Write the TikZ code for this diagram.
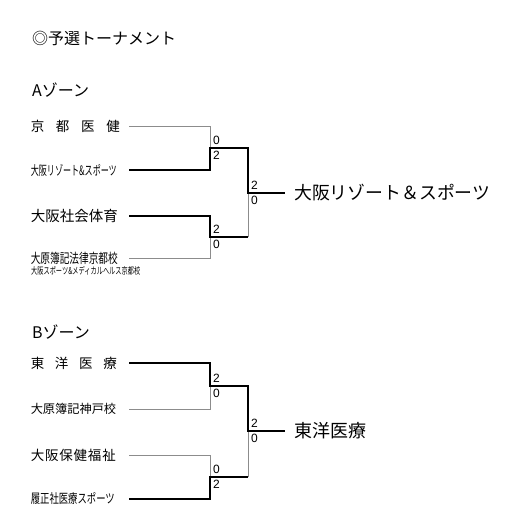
\documentclass[tikz,border=0pt]{standalone}
\usepackage{fontspec}
\setmainfont{Noto Sans CJK JP}
\newfontfamily\numfont{Liberation Sans}
\usepackage{graphicx}
\usetikzlibrary{positioning}

\newcommand{\fsize}[1]{\fontsize{#1}{#1}\selectfont}

\begin{document}
\begin{tikzpicture}[
    x=1pt, y=-1pt,
    every node/.style={inner sep=0pt},
    % school names, left of the lines
    team/.style={anchor=east, text width=98pt, align=left},
    % zone winner, right of the bracket
    winner/.style={anchor=west, inner xsep=9pt, inner ysep=0pt, font=\fsize{18}},
    zone/.style={anchor=west, font=\fsize{16}},
    score/.style={font=\numfont\fsize{12}},
    lose/.style={draw=black!45, line width=0.9pt},
    win/.style={draw=black, line width=2.2pt}
]
\useasboundingbox (0,0) rectangle (531,528);

% --- Title ---
\node[zone] (title) at (32,38) {◎予選トーナメント};

% --- A zone ---
\node[zone] (zoneA) at (32,90) {Aゾーン};
\node[team, font=\fsize{13.5}] (a1) at (129,126) {\makebox[89pt][s]{京\hfill 都\hfill 医\hfill 健}};
\node[team, font=\fsize{13}] (a2) at (129,170) {\resizebox{86pt}{\height}{大阪リゾート\&スポーツ}};
\node[team, font=\fsize{14.5}] (a3) at (129,216) {\makebox[87pt][s]{大\hfill 阪\hfill 社\hfill 会\hfill 体\hfill 育}};
\node[team, font=\fsize{13.5}] (a4) at (129,258) {\resizebox{87pt}{\height}{大原簿記法律京都校}};
\node[anchor=west, font=\fsize{9.5}] (a4x) at (31,271) {\resizebox{109pt}{\height}{大阪スポーツ\&メディカルヘルス京都校}};
\node[winner] (wa) at (285,193) {\resizebox{196pt}{\height}{大阪リゾート＆スポーツ}};

\coordinate (qa1) at (210,148);
\coordinate (qa2) at (210,237);
\coordinate (fa) at (248,193);

\draw[lose] (a1.east) -| (qa1);
\draw[lose] (a4.east) -| (qa2);
\draw[lose] (qa2 -| fa) -- (fa);
\draw[win] (a2.east) -| (qa1) -| (fa) -- (wa.west);
\draw[win] (a3.east) -| (qa2) -- (qa2 -| fa);

\node[score, above right=3pt and 3pt of qa1] (sa1t) {0};
\node[score, below right=3pt and 3pt of qa1] (sa1b) {2};
\node[score, above right=3pt and 3pt of qa2] (sa2t) {2};
\node[score, below right=3pt and 3pt of qa2] (sa2b) {0};
\node[score, above right=3pt and 3pt of fa] (sfat) {2};
\node[score, below right=3pt and 3pt of fa] (sfab) {0};

% --- B zone ---
\node[zone] (zoneB) at (32,332) {Bゾーン};
\node[team, font=\fsize{13.5}] (b1) at (129,363) {\makebox[86pt][s]{東\hfill 洋\hfill 医\hfill 療}};
\node[team, font=\fsize{12.2}] (b2) at (129,409) {大原簿記神戸校};
\node[team, font=\fsize{13.5}] (b3) at (129,455) {\makebox[85pt][s]{大\hfill 阪\hfill 保\hfill 健\hfill 福\hfill 祉}};
\node[team, font=\fsize{13}] (b4) at (129,499) {\resizebox{84pt}{\height}{履正社医療スポーツ}};
\node[winner] (wb) at (285,431) {東洋医療};

\coordinate (qb1) at (210,386);
\coordinate (qb2) at (210,477);
\coordinate (fb) at (248,431);

\draw[lose] (b2.east) -| (qb1);
\draw[lose] (b3.east) -| (qb2);
\draw[lose] (qb2 -| fb) -- (fb);
\draw[win] (b1.east) -| (qb1) -| (fb) -- (wb.west);
\draw[win] (b4.east) -| (qb2) -- (qb2 -| fb);

\node[score, above right=3pt and 3pt of qb1] (sb1t) {2};
\node[score, below right=3pt and 3pt of qb1] (sb1b) {0};
\node[score, above right=3pt and 3pt of qb2] (sb2t) {0};
\node[score, below right=3pt and 3pt of qb2] (sb2b) {2};
\node[score, above right=3pt and 3pt of fb] (sfbt) {2};
\node[score, below right=3pt and 3pt of fb] (sfbb) {0};

\end{tikzpicture}
\end{document}
